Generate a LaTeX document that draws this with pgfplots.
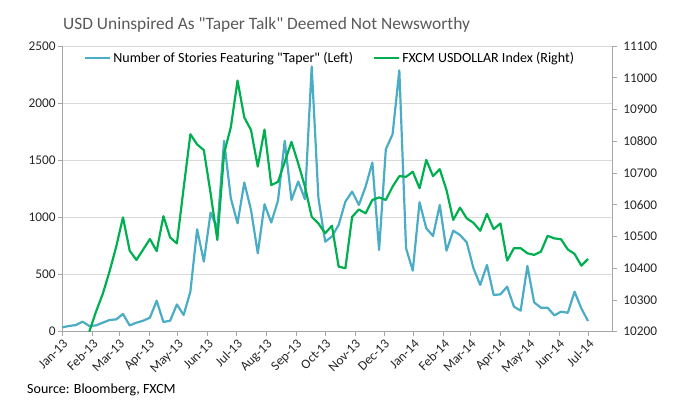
\documentclass[border=0pt]{standalone}
\usepackage{fontspec}
\setmainfont{Carlito}
\usepackage{pgfplots}
\usepackage{pgfplotstable}
\pgfplotsset{compat=1.18}
\definecolor{blueline}{HTML}{4BACC6}
\definecolor{greenline}{HTML}{00B050}
\definecolor{axisgray}{HTML}{A6A6A6}
\definecolor{gridgray}{HTML}{D9D9D9}
\definecolor{txt}{HTML}{262626}
\definecolor{titlegray}{HTML}{595959}

% week index -> day = 7*w ; Number of stories featuring "Taper"
\pgfplotstableread{
w v
0 38
1 50
2 58
3 88
4 50
5 55
6 79
7 102
8 108
9 155
10 55
11 79
12 96
13 123
14 271
15 85
16 96
17 239
18 146
19 350
20 896
21 613
22 1042
23 900
24 1670
25 1168
26 949
27 1305
28 1065
29 686
30 1115
31 955
32 1147
33 1670
34 1153
35 1314
36 1159
37 2321
38 1168
39 788
40 832
41 934
42 1138
43 1226
44 1109
45 1270
46 1480
47 715
48 1597
49 1728
50 2286
51 730
52 534
53 1133
54 905
55 838
56 1109
57 709
58 884
59 846
60 782
61 555
62 409
63 584
64 321
65 327
66 394
67 219
68 184
69 575
70 257
71 210
72 210
73 143
74 175
75 166
76 350
77 204
78 93
}\stories

% FXCM USDOLLAR Index
\pgfplotstableread{
w v
4 10200
5 10263
6 10319
7 10389
8 10468
9 10560
10 10455
11 10426
12 10459
13 10492
14 10454
15 10564
16 10497
17 10478
18 10652
19 10822
20 10790
21 10772
22 10636
23 10489
24 10762
25 10844
26 10991
27 10875
28 10835
29 10720
30 10837
31 10662
32 10672
33 10735
34 10798
35 10730
36 10657
37 10562
38 10541
39 10510
40 10534
41 10405
42 10400
43 10562
44 10585
45 10573
46 10615
47 10623
48 10615
49 10657
50 10690
51 10688
52 10704
53 10652
54 10741
55 10690
56 10712
57 10646
58 10552
59 10591
60 10557
61 10543
62 10518
63 10571
64 10523
65 10541
66 10424
67 10463
68 10463
69 10447
70 10442
71 10452
72 10502
73 10494
74 10491
75 10459
76 10445
77 10408
78 10429
}\usdollar

\begin{document}
\begin{tikzpicture}
\pgfplotsset{
  base/.style={
    scale only axis, width=550.4bp, height=285.7bp,
    at={(62.3bp,79.3bp)}, anchor=south west,
    xmin=0, xmax=571.6,
    /pgf/number format/assume math mode=true,
    /pgf/number format/1000 sep={},
    scaled y ticks=false,
    tick label style={font=\fontsize{13.3bp}{16bp}\selectfont, color=txt},
    tick style={axisgray, line width=0.75bp},
    major tick length=4.5bp,
    tick align=outside,
    axis line style={axisgray, line width=0.75bp},
    clip=false,
  }
}
\begin{axis}[base,
  axis x line*=bottom, axis y line*=left,
  ymin=0, ymax=2500, ytick={0,500,...,2500},
  ymajorgrids, grid style={gridgray, line width=0.75bp},
  xtick={0,31,59,90,120,151,181,212,243,273,304,334,365,396,424,455,485,516,546},
  xticklabels={Jan-13,Feb-13,Mar-13,Apr-13,May-13,Jun-13,Jul-13,Aug-13,Sep-13,Oct-13,Nov-13,Dec-13,Jan-14,Feb-14,Mar-14,Apr-14,May-14,Jun-14,Jul-14},
  xticklabel style={rotate=45, anchor=north east, inner sep=1.5bp},
  yticklabel style={inner sep=2bp},
  legend columns=2,
  legend style={at={(rel axis cs:0.034,0.958)}, anchor=west, draw=none, fill=none,
    font=\fontsize{14bp}{16bp}\selectfont, text=black,
    /tikz/every even column/.append style={column sep=18bp},
    nodes={inner sep=2bp}},
  legend cell align=left,
  legend image code/.code={\draw[#1] (0bp,0bp) -- (25bp,0bp);},
]
\addplot[blueline, line width=2.2bp, line join=round] table[x expr=7*\thisrow{w}, y=v] {\stories};
\addlegendentry{Number of Stories Featuring \textquotedbl Taper\textquotedbl{} (Left)}
\addlegendimage{greenline, line width=2.2bp}
\addlegendentry{FXCM USDOLLAR Index (Right)}
\end{axis}
\begin{axis}[base,
  axis x line=none, axis y line*=right,
  ymin=10200, ymax=11100, ytick={10200,10300,...,11100},
  yticklabel style={inner sep=2bp, anchor=west, xshift=4bp},
]
\addplot[greenline, line width=2.2bp, line join=round] table[x expr=7*\thisrow{w}, y=v] {\usdollar};
\end{axis}
\node[anchor=base west, inner sep=0pt, text=titlegray, font=\fontsize{17.4bp}{20bp}\selectfont] at (63bp,381.7bp) {USD Uninspired As \textquotedbl Taper Talk\textquotedbl{} Deemed Not Newsworthy};
\node[anchor=west, inner sep=0pt, text=black, font=\fontsize{14bp}{16bp}\selectfont] at (27bp,21bp) {Source: Bloomberg, FXCM};
\pgfresetboundingbox
\useasboundingbox (0,0) rectangle (680bp,411bp);
\end{tikzpicture}
\end{document}
